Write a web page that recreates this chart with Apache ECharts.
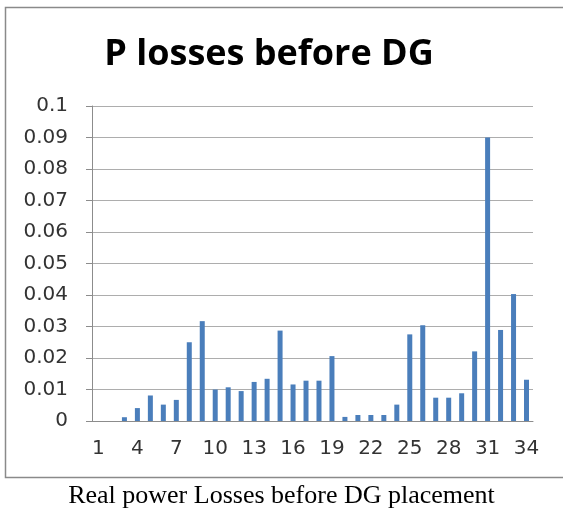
<!DOCTYPE html>
<html>
<head>
<meta charset="utf-8">
<script src="https://cdn.jsdelivr.net/npm/echarts@6/dist/echarts.min.js"></script>
<style>
  html, body { margin: 0; padding: 0; background: #fff; }
  #chart { width: 563px; height: 513px; }
</style>
</head>
<body>
<div id="chart"></div>
<script>
const buses = Array.from({ length: 34 }, (_, i) => String(i + 1));
const lossValues = [
  0, 0, 0.0012, 0.0041, 0.0081, 0.0052, 0.0067, 0.025, 0.0317, 0.0100,
  0.0107, 0.0095, 0.0124, 0.0134, 0.0287, 0.0116, 0.0128, 0.0128, 0.0206, 0.0013,
  0.0019, 0.0019, 0.0019, 0.0052, 0.0275, 0.0304, 0.0074, 0.0074, 0.0088, 0.0221,
  0.0900, 0.0289, 0.0403, 0.0131
];
const titleText = 'P losses before DG';
const captionText = 'Real power Losses before DG placement';

const chart = echarts.init(document.getElementById('chart'));
chart.setOption({
  animation: false,
  backgroundColor: '#fff',
  title: {
    text: titleText,
    left: 264, top: 32, textAlign: 'center',
    textStyle: { fontFamily: 'Open Sans', fontWeight: 'bold', fontSize: 36, color: '#000' }
  },
  graphic: [
    {
      type: 'rect', shape: { x: 5.5, y: 7.5, width: 570, height: 470 },
      style: { fill: 'none', stroke: '#8a8a8a', lineWidth: 1.5 }, silent: true
    },
    {
      type: 'text', left: 'center', top: 483,
      style: { text: captionText, font: '26px "Liberation Serif", serif', fill: '#000' }
    }
  ],
  grid: { left: 92, right: 30, top: 106, bottom: 92 },
  xAxis: {
    type: 'category',
    data: buses,
    axisLine: { lineStyle: { color: '#8c8c8c', width: 1 } },
    axisTick: { interval: 0, length: 5, lineStyle: { color: '#8c8c8c' } },
    axisLabel: { interval: 2, color: '#333', fontFamily: 'DejaVu Sans', fontSize: 20, margin: 18 }
  },
  yAxis: {
    type: 'value', min: 0, max: 0.1, interval: 0.01,
    axisLine: { show: true, lineStyle: { color: '#8c8c8c', width: 1 } },
    axisTick: { show: true, length: 6, lineStyle: { color: '#8c8c8c' } },
    axisLabel: { color: '#333', fontFamily: 'DejaVu Sans', fontSize: 20, margin: 24 },
    splitLine: { lineStyle: { color: '#adadad', width: 1 } }
  },
  series: [{
    type: 'bar',
    data: lossValues,
    barWidth: 5,
    itemStyle: { color: '#4a7ebb' }
  }]
});
</script>
</body>
</html>
